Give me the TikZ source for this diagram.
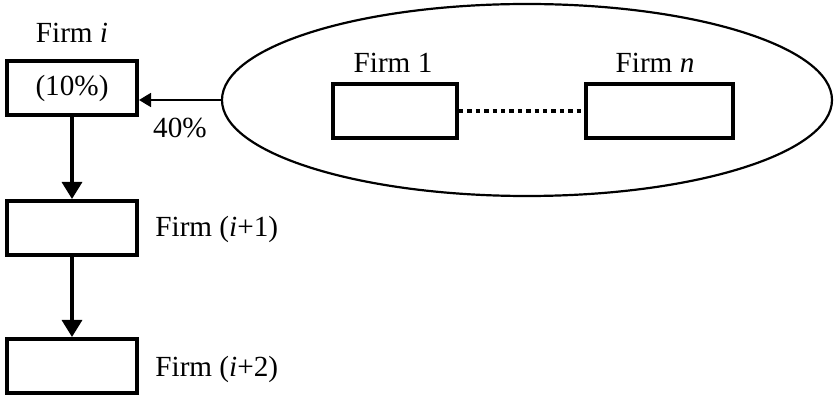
\documentclass[tikz,border=0pt]{standalone}
\usepackage{fontspec}
\setmainfont{Liberation Serif}
\usepackage{tikz}
\usetikzlibrary{arrows.meta,positioning,shapes.geometric}
\tikzset{
  firmbox/.style={draw, line width=2pt, minimum width=65pt, minimum height=27pt, inner sep=0pt},
  firmlabel/.style={inner sep=0pt, font=\fontsize{14.6}{17}\selectfont},
  flow/.style={line width=1.6pt, -{Triangle[width=10pt,length=8.5pt]}},
  share/.style={line width=0.9pt, -{Triangle[width=7pt,length=6pt]}},
  group/.style={draw, ellipse, line width=1.1pt, minimum width=305pt, minimum height=96pt}
}
\begin{document}
\begin{tikzpicture}[x=0.5pt, y=-0.5pt]
  \useasboundingbox (0,0) rectangle (836,395);
  % chain of firms
  \node[firmbox, firmlabel] (fi) at (72,88) {(10\%)};
  \node[firmbox] (fa) at (72,228) {};
  \node[firmbox] (fb) at (72,366) {};
  \node[firmlabel] (li) at (72,33) {Firm \textit{i}};
  \node[firmlabel, anchor=west] (la) at (155,229) {Firm (\textit{i}+1)};
  \node[firmlabel, anchor=west] (lb) at (155,369) {Firm (\textit{i}+2)};
  \draw[flow] (fi) -- (fa);
  \draw[flow] (fa) -- (fb);
  % group of firms
  \node[group] (grp) at (527,100) {};
  \node[firmbox, minimum width=62pt] (f1) at (395,111) {};
  \node[firmbox, minimum width=73.5pt] (fn) at (659,111) {};
  \node[firmlabel] (l1) at (393,63) {Firm 1};
  \node[firmlabel] (ln) at (655,63) {Firm \textit{n}};
  \draw[line width=2.2pt, dotted] (f1) -- (fn);
  \draw[share] (grp.west) -- (grp.west -| fi.east);
  \node[firmlabel] (pct) at (180,128) {40\%};
\end{tikzpicture}
\end{document}
